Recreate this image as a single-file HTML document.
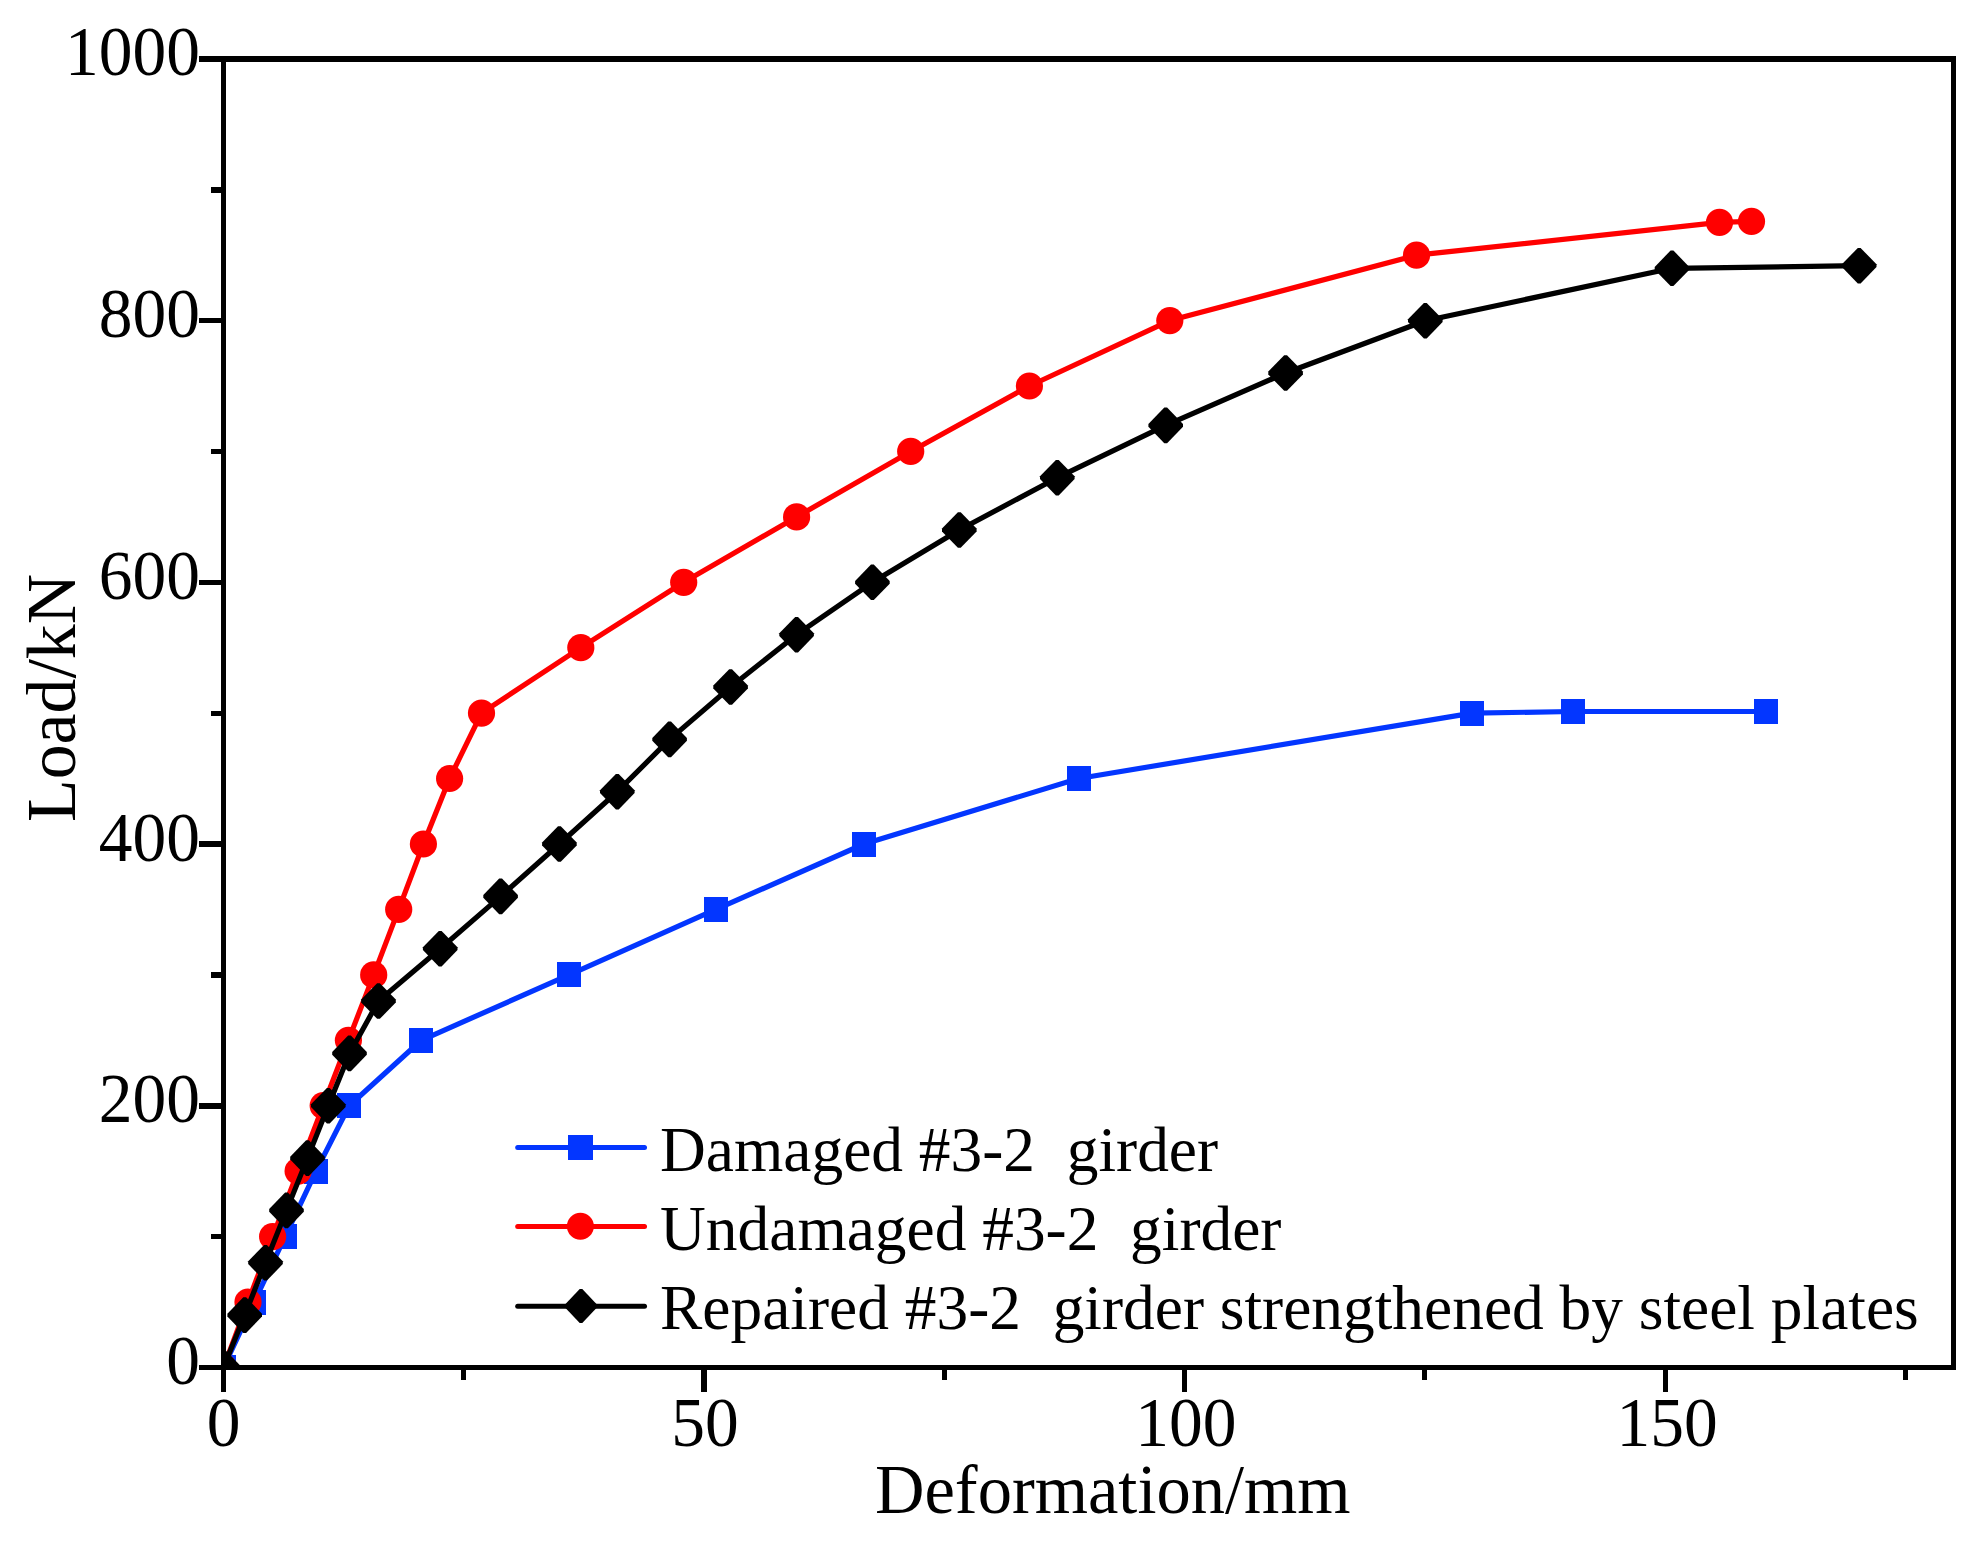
<!DOCTYPE html>
<html lang="en">
<head>
<meta charset="utf-8">
<title>Load-deformation curves</title>
<style>
html,body{margin:0;padding:0;background:#fff;}
body{width:1972px;height:1542px;overflow:hidden;}
svg{display:block;}
text{font-family:"Liberation Serif","Times New Roman",Times,serif;fill:#000;stroke:none;}
.ax{font-size:68.5px;}
.lg{font-size:63.4px;}
</style>
</head>
<body>
<svg width="1972" height="1542" viewBox="0 0 1972 1542">
<rect width="1972" height="1542" fill="#fff"/>
<defs><clipPath id="plot"><rect x="226" y="62" width="1725" height="1303"/></clipPath></defs>
<g clip-path="url(#plot)" fill="none" stroke-linejoin="round" stroke-linecap="round">
<polyline points="223.5,1367.5 254.2,1302.0 285.1,1236.6 316.0,1171.1 349.2,1105.7 421.3,1040.3 569.1,974.9 715.9,909.4 864.0,844.0 1078.7,778.5 1472.2,713.1 1573.0,711.5 1765.6,711.5" stroke="#0336ff" stroke-width="5.2"/>
<g fill="#0336ff" shape-rendering="crispEdges"><rect x="211.5" y="1355.0" width="24" height="25"/><rect x="242.2" y="1289.5" width="24" height="25"/><rect x="273.1" y="1224.1" width="24" height="25"/><rect x="304.0" y="1158.6" width="24" height="25"/><rect x="337.2" y="1093.2" width="24" height="25"/><rect x="409.3" y="1027.8" width="24" height="25"/><rect x="557.1" y="962.4" width="24" height="25"/><rect x="703.9" y="896.9" width="24" height="25"/><rect x="852.0" y="831.5" width="24" height="25"/><rect x="1066.7" y="766.0" width="24" height="25"/><rect x="1460.2" y="700.6" width="24" height="25"/><rect x="1561.0" y="699.0" width="24" height="25"/><rect x="1753.6" y="699.0" width="24" height="25"/></g>
<polyline points="223.5,1367.5 248.0,1302.0 272.6,1236.6 298.1,1171.1 323.2,1105.7 348.4,1040.3 373.7,974.9 398.7,909.4 423.4,844.0 449.6,778.5 481.5,713.1 580.8,647.7 683.7,582.3 796.6,516.9 910.7,451.4 1029.4,386.0 1169.8,320.6 1416.5,255.2 1719.5,222.4 1751.5,221.4" stroke="#ff0000" stroke-width="5.2"/>
<g fill="#ff0000"><circle cx="223.5" cy="1367.5" r="13.6"/><circle cx="248.0" cy="1302.0" r="13.6"/><circle cx="272.6" cy="1236.6" r="13.6"/><circle cx="298.1" cy="1171.1" r="13.6"/><circle cx="323.2" cy="1105.7" r="13.6"/><circle cx="348.4" cy="1040.3" r="13.6"/><circle cx="373.7" cy="974.9" r="13.6"/><circle cx="398.7" cy="909.4" r="13.6"/><circle cx="423.4" cy="844.0" r="13.6"/><circle cx="449.6" cy="778.5" r="13.6"/><circle cx="481.5" cy="713.1" r="13.6"/><circle cx="580.8" cy="647.7" r="13.6"/><circle cx="683.7" cy="582.3" r="13.6"/><circle cx="796.6" cy="516.9" r="13.6"/><circle cx="910.7" cy="451.4" r="13.6"/><circle cx="1029.4" cy="386.0" r="13.6"/><circle cx="1169.8" cy="320.6" r="13.6"/><circle cx="1416.5" cy="255.2" r="13.6"/><circle cx="1719.5" cy="222.4" r="13.6"/><circle cx="1751.5" cy="221.4" r="13.6"/></g>
<polyline points="223.5,1367.5 244.7,1315.1 265.5,1262.7 286.5,1210.4 307.5,1158.1 328.3,1105.7 349.5,1053.4 378.5,1001.0 440.2,948.7 500.6,896.4 559.4,844.0 617.3,791.7 669.6,739.4 730.6,687.0 796.6,634.7 872.4,582.3 959.3,530.0 1057.3,477.7 1165.7,425.4 1285.6,373.0 1425.3,320.7 1672.0,268.3 1859.2,265.7" stroke="#000" stroke-width="5.2"/>
<g fill="#000"><path d="M222.1 1349.7L224.9 1349.7L240.8 1366.1L240.8 1368.9L224.9 1385.3L222.1 1385.3L206.2 1368.9L206.2 1366.1Z"/><path d="M243.3 1297.3L246.1 1297.3L262.0 1313.7L262.0 1316.5L246.1 1332.9L243.3 1332.9L227.4 1316.5L227.4 1313.7Z"/><path d="M264.1 1244.9L266.9 1244.9L282.8 1261.3L282.8 1264.1L266.9 1280.5L264.1 1280.5L248.2 1264.1L248.2 1261.3Z"/><path d="M285.1 1192.6L287.9 1192.6L303.8 1209.0L303.8 1211.8L287.9 1228.2L285.1 1228.2L269.2 1211.8L269.2 1209.0Z"/><path d="M306.1 1140.3L308.9 1140.3L324.8 1156.7L324.8 1159.5L308.9 1175.9L306.1 1175.9L290.2 1159.5L290.2 1156.7Z"/><path d="M326.9 1087.9L329.7 1087.9L345.6 1104.3L345.6 1107.1L329.7 1123.5L326.9 1123.5L311.0 1107.1L311.0 1104.3Z"/><path d="M348.1 1035.6L350.9 1035.6L366.8 1052.0L366.8 1054.8L350.9 1071.2L348.1 1071.2L332.2 1054.8L332.2 1052.0Z"/><path d="M377.1 983.2L379.9 983.2L395.8 999.6L395.8 1002.4L379.9 1018.8L377.1 1018.8L361.2 1002.4L361.2 999.6Z"/><path d="M438.8 930.9L441.6 930.9L457.5 947.3L457.5 950.1L441.6 966.5L438.8 966.5L422.9 950.1L422.9 947.3Z"/><path d="M499.2 878.6L502.0 878.6L517.9 895.0L517.9 897.8L502.0 914.2L499.2 914.2L483.3 897.8L483.3 895.0Z"/><path d="M558.0 826.2L560.8 826.2L576.7 842.6L576.7 845.4L560.8 861.8L558.0 861.8L542.1 845.4L542.1 842.6Z"/><path d="M615.9 773.9L618.7 773.9L634.6 790.3L634.6 793.1L618.7 809.5L615.9 809.5L600.0 793.1L600.0 790.3Z"/><path d="M668.2 721.6L671.0 721.6L686.9 738.0L686.9 740.8L671.0 757.2L668.2 757.2L652.3 740.8L652.3 738.0Z"/><path d="M729.2 669.2L732.0 669.2L747.9 685.6L747.9 688.4L732.0 704.8L729.2 704.8L713.3 688.4L713.3 685.6Z"/><path d="M795.2 616.9L798.0 616.9L813.9 633.3L813.9 636.1L798.0 652.5L795.2 652.5L779.3 636.1L779.3 633.3Z"/><path d="M871.0 564.5L873.8 564.5L889.7 580.9L889.7 583.7L873.8 600.1L871.0 600.1L855.1 583.7L855.1 580.9Z"/><path d="M957.9 512.2L960.7 512.2L976.6 528.6L976.6 531.4L960.7 547.8L957.9 547.8L942.0 531.4L942.0 528.6Z"/><path d="M1055.9 459.9L1058.7 459.9L1074.6 476.3L1074.6 479.1L1058.7 495.5L1055.9 495.5L1040.0 479.1L1040.0 476.3Z"/><path d="M1164.3 407.6L1167.1 407.6L1183.0 424.0L1183.0 426.8L1167.1 443.2L1164.3 443.2L1148.4 426.8L1148.4 424.0Z"/><path d="M1284.2 355.2L1287.0 355.2L1302.9 371.6L1302.9 374.4L1287.0 390.8L1284.2 390.8L1268.3 374.4L1268.3 371.6Z"/><path d="M1423.9 302.9L1426.7 302.9L1442.6 319.3L1442.6 322.1L1426.7 338.5L1423.9 338.5L1408.0 322.1L1408.0 319.3Z"/><path d="M1670.6 250.5L1673.4 250.5L1689.3 266.9L1689.3 269.7L1673.4 286.1L1670.6 286.1L1654.7 269.7L1654.7 266.9Z"/><path d="M1857.8 247.9L1860.6 247.9L1876.5 264.3L1876.5 267.1L1860.6 283.5L1857.8 283.5L1841.9 267.1L1841.9 264.3Z"/></g>
</g>
<g fill="#000" shape-rendering="crispEdges">
<rect x="221" y="56" width="5" height="1314"/>
<rect x="1951" y="56" width="5" height="1314"/>
<rect x="221" y="56" width="1735" height="6"/>
<rect x="221" y="1365" width="1735" height="5"/>
<rect x="199" y="1364.75" width="23" height="5.5"/>
<rect x="211" y="1233.90" width="11" height="5.5"/>
<rect x="199" y="1103.05" width="23" height="5.5"/>
<rect x="211" y="972.20" width="11" height="5.5"/>
<rect x="199" y="841.35" width="23" height="5.5"/>
<rect x="211" y="710.50" width="11" height="5.5"/>
<rect x="199" y="579.65" width="23" height="5.5"/>
<rect x="211" y="448.80" width="11" height="5.5"/>
<rect x="199" y="317.95" width="23" height="5.5"/>
<rect x="211" y="187.10" width="11" height="5.5"/>
<rect x="199" y="56.25" width="23" height="5.5"/>
<rect x="220.90" y="1369" width="5.2" height="23"/>
<rect x="461.18" y="1369" width="5.2" height="11"/>
<rect x="701.46" y="1369" width="5.2" height="23"/>
<rect x="941.73" y="1369" width="5.2" height="11"/>
<rect x="1182.01" y="1369" width="5.2" height="23"/>
<rect x="1422.29" y="1369" width="5.2" height="11"/>
<rect x="1662.57" y="1369" width="5.2" height="23"/>
<rect x="1902.84" y="1369" width="5.2" height="11"/>
</g>
<g class="ax">
<text transform="translate(200 1383.9) scale(0.985,1.03)" text-anchor="end">0</text>
<text transform="translate(200 1122.2) scale(0.985,1.03)" text-anchor="end">200</text>
<text transform="translate(200 860.5) scale(0.985,1.03)" text-anchor="end">400</text>
<text transform="translate(200 598.8) scale(0.985,1.03)" text-anchor="end">600</text>
<text transform="translate(200 337.1) scale(0.985,1.03)" text-anchor="end">800</text>
<text transform="translate(200 75.4) scale(0.985,1.03)" text-anchor="end">1000</text>
<text transform="translate(223.7 1445.7) scale(0.985,1.03)" text-anchor="middle">0</text>
<text transform="translate(704.9 1445.7) scale(0.985,1.03)" text-anchor="middle">50</text>
<text transform="translate(1185.8 1445.7) scale(0.985,1.03)" text-anchor="middle">100</text>
<text transform="translate(1667.1 1445.7) scale(0.985,1.03)" text-anchor="middle">150</text>
<text transform="translate(875 1512.7) scale(1,1.02)">Deformation/mm</text>
<text transform="translate(75.4 822) rotate(-90)" style="font-size:69.8px">Load/kN</text>
</g>
<g fill="none" stroke-width="5" stroke-linecap="round">
<line x1="517.7" y1="1147.5" x2="644.5" y2="1147.5" stroke="#0336ff"/>
<line x1="517.7" y1="1226.4" x2="644.5" y2="1226.4" stroke="#ff0000"/>
<line x1="517.7" y1="1306.3" x2="644.5" y2="1306.3" stroke="#000"/>
</g>
<g fill="#0336ff" shape-rendering="crispEdges"><rect x="568.0" y="1134.9" width="25" height="25"/></g>
<g fill="#ff0000"><circle cx="580.4" cy="1226.3" r="13.5"/></g>
<g fill="#000"><path d="M579.7 1288.9L582.3 1288.9L597.2 1304.7L597.2 1307.3L582.3 1323.1L579.7 1323.1L564.8 1307.3L564.8 1304.7Z"/></g>
<g class="lg">
<text x="660.1" y="1170.6" xml:space="preserve">Damaged #3-2  girder</text>
<text x="660.1" y="1249.6" xml:space="preserve">Undamaged #3-2  girder</text>
<text x="660.1" y="1329.4" xml:space="preserve">Repaired #3-2  girder strengthened by steel plates</text>
</g>
</svg>
</body>
</html>
